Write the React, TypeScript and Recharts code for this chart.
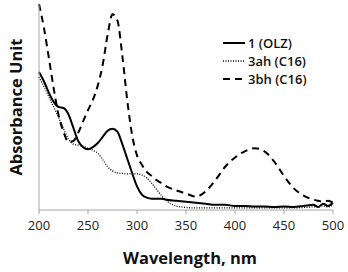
import { Label, Line, LineChart, XAxis, YAxis } from "recharts";

const wavelengths = [
    200, 205, 210, 215, 220, 225, 230, 235, 240, 245, 250, 255, 260, 265, 270, 275, 280, 285, 290, 295,
    300, 305, 310, 315, 320, 325, 330, 340, 350, 360, 370, 380, 390, 400, 410, 420, 430, 440, 450, 460,
    470, 480, 485, 490, 495, 500,
];
const olz = [
    1.34, 1.25, 1.14, 1.05, 1.0, 0.99, 0.93, 0.8, 0.67, 0.61, 0.59, 0.61, 0.65, 0.71, 0.77, 0.79, 0.76, 0.64, 0.5, 0.36,
    0.23, 0.15, 0.12, 0.11, 0.11, 0.11, 0.1, 0.09, 0.08, 0.07, 0.06, 0.05, 0.05, 0.04, 0.04, 0.035, 0.035, 0.03, 0.035, 0.03,
    0.04, 0.05, 0.03, 0.06, 0.04, 0.07,
];
const ah = [
    1.29, 1.2, 1.1, 1.0, 0.9, 0.79, 0.69, 0.64, 0.63, 0.62, 0.6, 0.58, 0.55, 0.49, 0.42, 0.38, 0.36, 0.355, 0.35, 0.35,
    0.35, 0.34, 0.31, 0.26, 0.2, 0.14, 0.09, 0.04, 0.025, 0.02, 0.02, 0.02, 0.02, 0.02, 0.02, 0.02, 0.02, 0.02, 0.02, 0.02,
    0.025, 0.03, 0.03, 0.04, 0.03, 0.05,
];
const bh = [
    2.0, 1.77, 1.48, 1.18, 0.92, 0.76, 0.66, 0.67, 0.75, 0.86, 0.97, 1.07, 1.21, 1.41, 1.7, 1.9, 1.84, 1.5, 1.07, 0.73,
    0.53, 0.44, 0.37, 0.33, 0.29, 0.26, 0.23, 0.19, 0.16, 0.13, 0.18, 0.29, 0.42, 0.51, 0.57, 0.6, 0.57, 0.47, 0.33, 0.21,
    0.14, 0.1, 0.09, 0.08, 0.09, 0.07,
];
const xTicks = [200, 250, 300, 350, 400, 450, 500];

const series = [
    { key: "olz", name: "1 (OLZ)", dash: undefined, width: 2 },
    { key: "ah", name: "3ah (C16)", dash: "1 1.5", width: 1.3 },
    { key: "bh", name: "3bh (C16)", dash: "7 5", width: 2 },
];

const data = wavelengths.map((wl, i) => ({ wl, olz: olz[i], ah: ah[i], bh: bh[i] }));

const FONT = "'Open Sans', sans-serif";
const GRAY = "#a6a6a6";

const LegendBox = () => (
    <div style={{ position: "absolute", left: 222, top: 34, fontFamily: FONT, fontSize: 13, fontWeight: 600, color: "#111" }}>
        {series.map((s) => (
            <div key={s.key} style={{ height: 18, display: "flex", alignItems: "center" }}>
                <svg width={26} height={10}>
                    <line x1={1} y1={5} x2={23} y2={5} stroke="#000" strokeWidth={s.width} strokeDasharray={s.dash} />
                </svg>
                <span>{s.name}</span>
            </div>
        ))}
    </div>
);

export default function App() {
    return (
        <div style={{ position: "relative", width: 348, height: 272 }}>
            <style>{"body{margin:0}"}</style>
            <LineChart width={348} height={272} data={data} margin={{ top: 4, right: 15, bottom: 0, left: 0 }}>
                <XAxis
                    dataKey="wl"
                    type="number"
                    domain={[200, 500]}
                    ticks={xTicks}
                    height={62}
                    stroke={GRAY}
                    tickSize={4}
                    tickMargin={7}
                    tick={{ fill: "#222", fontSize: 13, fontFamily: FONT }}
                >
                    <Label
                        value="Wavelength, nm"
                        position="insideBottom"
                        offset={8}
                        dx={4}
                        style={{ fontFamily: FONT, fontSize: 16.5, fontWeight: 700, fill: "#111" }}
                    />
                </XAxis>
                <XAxis xAxisId="top" orientation="top" dataKey="wl" type="number" domain={[200, 500]} height={0} tick={false} tickLine={false} stroke={GRAY} />
                <YAxis domain={[0, 2]} width={39} tick={false} tickLine={false} stroke={GRAY}>
                    <Label
                        content={({ viewBox }: any) => {
                            const x = viewBox.x + 15;
                            const y = viewBox.y + viewBox.height / 2;
                            return (
                                <text
                                    x={x}
                                    y={y}
                                    transform={`rotate(-90 ${x} ${y})`}
                                    textAnchor="middle"
                                    dominantBaseline="central"
                                    style={{ fontFamily: FONT, fontSize: 16.5, fontWeight: 700, fill: "#111" }}
                                >
                                    Absorbance Unit
                                </text>
                            );
                        }}
                    />
                </YAxis>
                <YAxis yAxisId="right" orientation="right" domain={[0, 2]} width={0} tick={false} tickLine={false} stroke={GRAY} />
                {series.map((s) => (
                    <Line
                        key={s.key}
                        dataKey={s.key}
                        name={s.name}
                        type="monotone"
                        stroke="#000"
                        strokeWidth={s.width}
                        strokeDasharray={s.dash}
                        dot={false}
                        isAnimationActive={false}
                    />
                ))}
            </LineChart>
            <LegendBox />
        </div>
    );
}
